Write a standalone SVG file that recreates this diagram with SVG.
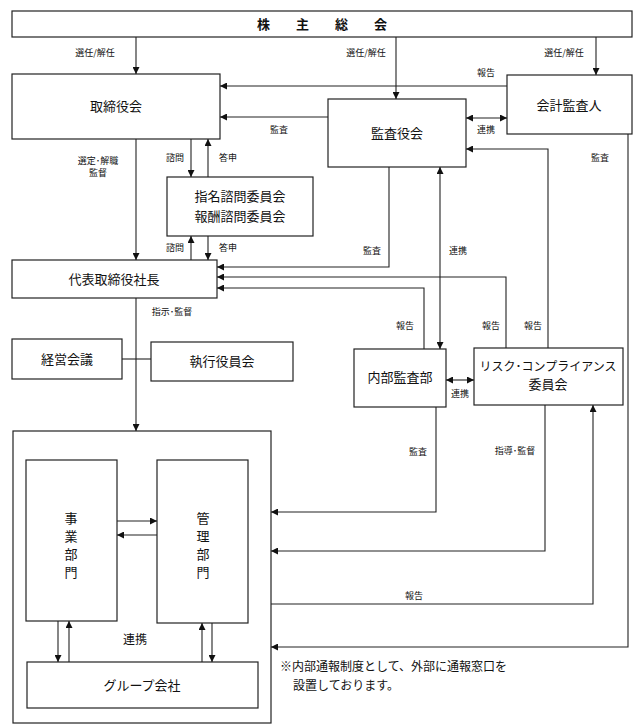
<svg xmlns="http://www.w3.org/2000/svg" width="633" height="726" viewBox="0 0 633 726">
<style>
rect{fill:#fff;stroke:#222;stroke-width:1.2}
text{font-family:"Noto Sans CJK JP","Liberation Sans",sans-serif;fill:#111;text-anchor:middle}
.n{font-size:13px}
.s{font-size:9px}
.c path{fill:none;stroke:#222;stroke-width:1.1}
</style>
<defs>
<marker id="a" viewBox="0 0 10 10" refX="10" refY="5" markerWidth="7" markerHeight="7" orient="auto-start-reverse" markerUnits="userSpaceOnUse"><path d="M0,0L10,5L0,10z" fill="#111"/></marker>
</defs>
<rect x="0" y="0" width="633" height="726" style="stroke:none"/>
<g id="n-shareholders"><rect x="12" y="11" width="620" height="26"/><text class="n" x="322" y="29" font-weight="bold">株　　主　　総　　会</text></g>
<g id="n-board"><rect x="12" y="74" width="208" height="65"/><text class="n" x="116" y="111">取締役会</text></g>
<g id="n-audit"><rect x="328" y="99" width="138" height="68"/><text class="n" x="397" y="138">監査役会</text></g>
<g id="n-accountant"><rect x="507" y="75" width="125" height="59"/><text class="n" x="569" y="110">会計監査人</text></g>
<g id="n-advisory"><rect x="167" y="177" width="146" height="59"/><text class="n" x="240" y="201">指名諮問委員会</text><text class="n" x="240" y="221">報酬諮問委員会</text></g>
<g id="n-president"><rect x="12" y="260" width="205" height="38"/><text class="n" x="114" y="284">代表取締役社長</text></g>
<g id="n-mgmt"><rect x="12" y="339" width="110" height="40"/><text class="n" x="67" y="364">経営会議</text></g>
<g id="n-exec"><rect x="151" y="342" width="142" height="39"/><text class="n" x="222" y="366">執行役員会</text></g>
<g id="n-internal"><rect x="354" y="349" width="92" height="58"/><text class="n" x="400" y="382">内部監査部</text></g>
<g id="n-risk"><rect x="474" y="348" width="149" height="57"/><text class="n" x="548" y="371" style="font-size:12px">リスク･コンプライアンス</text><text class="n" x="548" y="389">委員会</text></g>
<g id="n-container"><rect x="13" y="431" width="258" height="292"/></g>
<g id="n-business"><rect x="26" y="460" width="91" height="161"/><text class="n" x="71" y="523">事</text><text class="n" x="71" y="541">業</text><text class="n" x="71" y="559">部</text><text class="n" x="71" y="577">門</text></g>
<g id="n-admin"><rect x="157" y="460" width="91" height="163"/><text class="n" x="203" y="523">管</text><text class="n" x="203" y="541">理</text><text class="n" x="203" y="559">部</text><text class="n" x="203" y="577">門</text></g>
<g id="n-group"><rect x="27" y="662" width="231" height="46"/><text class="n" x="142" y="690">グループ会社</text></g>
<g class="c" id="connectors">
<path d="M136,37V74" marker-end="url(#a)"/>
<path d="M396,37V99" marker-end="url(#a)"/>
<path d="M596,37V75" marker-end="url(#a)"/>
<path d="M507,86H220" marker-end="url(#a)"/>
<path d="M328,117H220" marker-end="url(#a)"/>
<path d="M466,118H507" marker-start="url(#a)" marker-end="url(#a)"/>
<path d="M136,139V260" marker-end="url(#a)"/>
<path d="M191,139V177" marker-end="url(#a)"/>
<path d="M208,177V139" marker-end="url(#a)"/>
<path d="M191,260V236" marker-end="url(#a)"/>
<path d="M208,236V260" marker-end="url(#a)"/>
<path d="M389,167V267H217" marker-end="url(#a)"/>
<path d="M506,348V277H217" marker-end="url(#a)"/>
<path d="M424,349V288H217" marker-end="url(#a)"/>
<path d="M440,167V349" marker-start="url(#a)" marker-end="url(#a)"/>
<path d="M548,348V149H466" marker-end="url(#a)"/>
<path d="M628,134V647H271" marker-end="url(#a)"/>
<path d="M446,380H474" marker-start="url(#a)" marker-end="url(#a)"/>
<path d="M136,298V431" marker-end="url(#a)"/>
<path d="M122,359H151"/>
<path d="M436,407V512H271" marker-end="url(#a)"/>
<path d="M545,405V551H271" marker-end="url(#a)"/>
<path d="M271,604H593V405" marker-end="url(#a)"/>
<path d="M117,521H157" marker-end="url(#a)"/>
<path d="M157,535H117" marker-end="url(#a)"/>
<path d="M58,621V662" marker-end="url(#a)"/>
<path d="M69,662V621" marker-end="url(#a)"/>
<path d="M202,662V623" marker-end="url(#a)"/>
<path d="M212,623V662" marker-end="url(#a)"/>
</g>
<g id="labels">
<text class="s" x="95" y="56">選任/解任</text>
<text class="s" x="366" y="56">選任/解任</text>
<text class="s" x="564" y="56">選任/解任</text>
<text class="s" x="486" y="76">報告</text>
<text class="s" x="279" y="133">監査</text>
<text class="s" x="486" y="133">連携</text>
<text class="s" x="98" y="164">選定･解職</text>
<text class="s" x="98" y="176">監督</text>
<text class="s" x="175" y="161">諮問</text>
<text class="s" x="228" y="161">答申</text>
<text class="s" x="600" y="161">監査</text>
<text class="s" x="175" y="251">諮問</text>
<text class="s" x="228" y="251">答申</text>
<text class="s" x="372" y="254">監査</text>
<text class="s" x="458" y="254">連携</text>
<text class="s" x="172" y="315">指示･監督</text>
<text class="s" x="405" y="329">報告</text>
<text class="s" x="491" y="329">報告</text>
<text class="s" x="533" y="329">報告</text>
<text class="s" x="460" y="397">連携</text>
<text class="s" x="418" y="455">監査</text>
<text class="s" x="515" y="454">指導･監督</text>
<text class="s" x="414" y="599">報告</text>
<text x="135" y="644" style="font-size:12px">連携</text>
<text x="280" y="671" style="font-size:12px;text-anchor:start">※内部通報制度として、外部に通報窓口を</text>
<text x="293" y="690" style="font-size:12px;text-anchor:start">設置しております。</text>
</g>
</svg>
